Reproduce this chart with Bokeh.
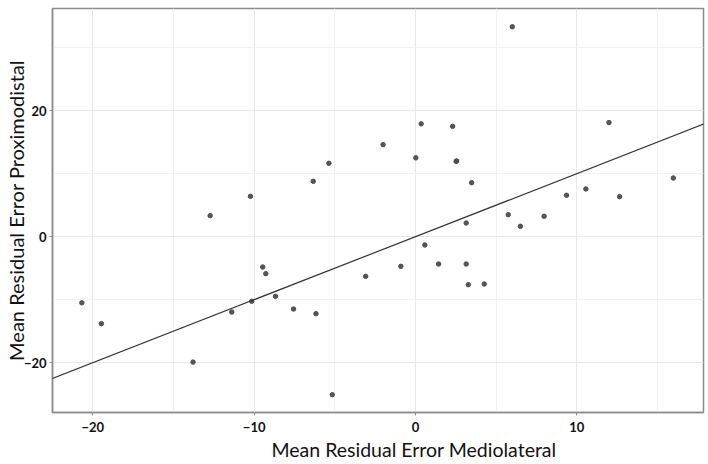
from bokeh.plotting import figure
from bokeh.models import FixedTicker, Slope, Range1d, Title
from bokeh.embed import file_html
from bokeh.resources import INLINE

# Data
mediolateral = [-12.73, -10.23, -6.34, -5.37, 6.00, 0.35, 2.30, -2.01, 0.02, 2.52, 2.55,
                3.48, 11.99, 15.98, 9.36, 10.56, 12.65, 5.75, 6.50, 7.97, 3.14,
                -20.68, -19.47, -13.79, -11.39, -10.15, -9.47, -9.28, -8.68, -7.56, -6.17,
                -5.16, 0.58, -0.91, -3.09, 1.43, 3.14, 3.27, 4.26]
proximodistal = [3.33, 6.40, 8.78, 11.64, 33.30, 17.90, 17.50, 14.60, 12.50, 11.95, 12.00,
                 8.57, 18.10, 9.30, 6.56, 7.57, 6.35, 3.49, 1.64, 3.23, 2.17,
                 -10.50, -13.80, -19.90, -11.96, -10.26, -4.82, -5.87, -9.47, -11.48, -12.22,
                 -25.08, -1.32, -4.71, -6.30, -4.34, -4.34, -7.62, -7.51]
fit_gradient = 1.0
fit_intercept = 0.0
x_major = [-20, -10, 0, 10]
x_minor = [-15, -5, 5, 15]
y_major = [-20, 0, 20]
y_minor = [-10, 10, 30]
x_title = "Mean Residual Error Mediolateral"
y_title = "Mean Residual Error Proximodistal"

p = figure(width=706, height=462, output_backend="svg", toolbar_location=None,
           x_range=Range1d(-22.5, 17.85), y_range=Range1d(-27.9, 36.2),
           min_border_left=0, min_border_right=3, min_border_top=8, min_border_bottom=50)

p.background_fill_color = "white"
p.border_fill_color = "white"
p.outline_line_color = "#8c8c8c"
p.outline_line_width = 1.5

p.xaxis.ticker = FixedTicker(ticks=x_major, minor_ticks=x_minor)
p.yaxis.ticker = FixedTicker(ticks=y_major, minor_ticks=y_minor)

for ax in (p.xaxis, p.yaxis):
    ax.axis_line_color = "#8c8c8c"
    ax.axis_line_width = 1.5
    ax.major_tick_line_color = "#8c8c8c"
    ax.major_tick_out = 3
    ax.major_tick_in = 0
    ax.minor_tick_line_color = None
    ax.major_label_text_font = "Lato"
    ax.major_label_text_font_style = "bold"
    ax.major_label_text_font_size = "13px"
    ax.major_label_text_color = "#111111"
    ax.axis_label_text_font = "Lato"
    ax.axis_label_text_font_style = "normal"
    ax.axis_label_text_color = "#111111"

p.xaxis.major_label_standoff = 5
p.yaxis.axis_label = y_title
p.yaxis.axis_label_text_font_size = "20px"
p.yaxis.major_label_standoff = 2
p.yaxis.axis_label_standoff = -7

for g in (p.xgrid, p.ygrid):
    g.grid_line_color = "#e8e8e8"
    g.grid_line_width = 1
    g.minor_grid_line_color = "#f1f1f1"
    g.minor_grid_line_width = 1

p.scatter(mediolateral, proximodistal, size=4.5, color="#4d4d4d", alpha=0.95)
p.add_layout(Slope(gradient=fit_gradient, y_intercept=fit_intercept,
                   line_color="#333333", line_width=1.2))

p.add_layout(Title(text=x_title, align="left", offset=219, standoff=2,
                   text_font="Lato", text_font_size="19.5px", text_font_style="normal",
                   text_color="#111111"), "below")

open("out.html", "w").write(file_html(p, INLINE))
